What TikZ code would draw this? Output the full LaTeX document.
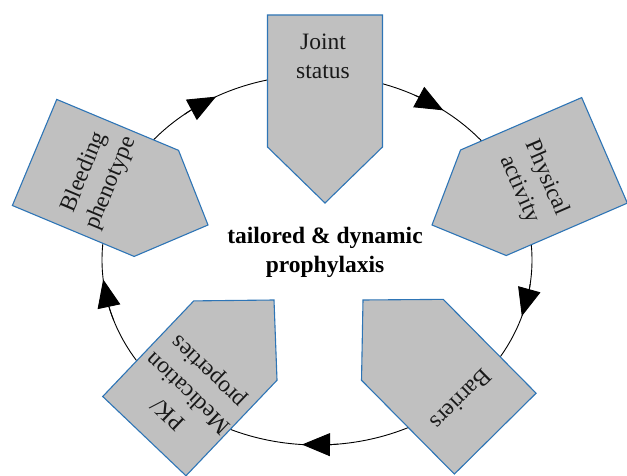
\documentclass[tikz,border=0pt]{standalone}
\usepackage{fontspec}
\setmainfont{Liberation Serif}
\usetikzlibrary{arrows.meta,bending,calc}
\definecolor{boxgray}{RGB}{192,192,192}
\definecolor{boxblue}{RGB}{46,117,182}
\tikzset{
  shapebox/.style={fill=boxgray, draw=boxblue, line width=1.1pt, line join=miter},
  lbl/.style={font=\fontsize{23.5}{29}\selectfont, align=center, inner sep=0pt, transform shape, text=black!90},
  cyc/.style={draw=black, line width=0.9pt},
  cycarrow/.style={cyc, -{Triangle[length=28pt,width=23pt]}}
}
\newcommand\drawpetal{\path[shapebox] (0,0) -- (57.5,56) -- (57.5,188) -- (-57.5,188) -- (-57.5,56) -- cycle;}
\begin{document}
\begin{tikzpicture}[x=1pt,y=1pt]
\useasboundingbox (0,0) rectangle (627,475);
\coordinate (C) at (317,215);
% cycle ellipse
\draw[cyc] (C) ellipse [x radius=215pt, y radius=185pt];
% Joint status
\begin{scope}[shift={(325,272)}, rotate=0]
  \drawpetal
  \node[lbl] (joint) at (-2,147) {Joint\\status};
\end{scope}
% Physical activity
\begin{scope}[shift={(432,250)}, rotate=-66.6]
  \drawpetal
  \node[lbl] (phys) at (2,109) {Physical\\activity};
\end{scope}
% Barriers
\begin{scope}[shift={(363,175)}, rotate=-135.3]
  \drawpetal
  \node[lbl] (barr) at (0,140) {Barriers};
\end{scope}
% PK / Medication properties
\begin{scope}[shift={(274,175)}, rotate=136.4]
  \drawpetal
  \node[lbl] (pk) at (-2,125) {PK/\\Medication\\properties};
\end{scope}
% Bleeding phenotype
\begin{scope}[shift={(208,250)}, rotate=67.3]
  \drawpetal
  \node[lbl] (bleed) at (1,120) {Bleeding\\phenotype};
\end{scope}
% arrowheads along the cycle
\coordinate (a1) at ($(C)+(128:215pt and 185pt)$);
\coordinate (a2) at ($(C)+(63:215pt and 185pt)$);
\coordinate (a3) at ($(C)+(-7.5:215pt and 185pt)$);
\coordinate (a4) at ($(C)+(-84.5:215pt and 185pt)$);
\coordinate (a5) at ($(C)+(199:215pt and 185pt)$);
\draw[cycarrow] (a1) arc [start angle=128, end angle=118, x radius=215pt, y radius=185pt];
\draw[cycarrow] (a2) arc [start angle=63, end angle=54, x radius=215pt, y radius=185pt];
\draw[cycarrow] (a3) arc [start angle=-7.5, end angle=-17.7, x radius=215pt, y radius=185pt];
\draw[cycarrow] (a4) arc [start angle=-84.5, end angle=-94, x radius=215pt, y radius=185pt];
\draw[cycarrow] (a5) arc [start angle=199, end angle=186, x radius=215pt, y radius=185pt];
% centre text
\node[font=\bfseries\fontsize{23.5}{29}\selectfont, align=center, inner sep=0pt] (centre) at (325,223) {tailored \& dynamic\\prophylaxis};
\end{tikzpicture}
\end{document}
